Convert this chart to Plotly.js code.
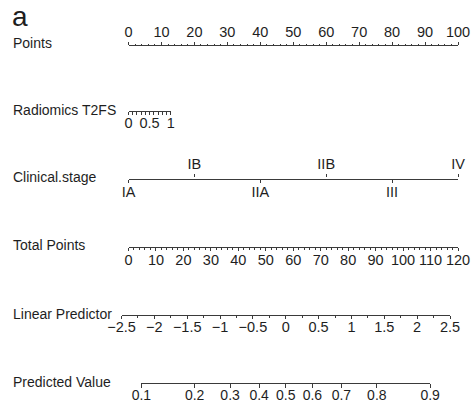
<!DOCTYPE html>
<html>
<head>
<meta charset="utf-8">
<script src="https://cdn.plot.ly/plotly-3.0.1.min.js"></script>
<style>html,body{margin:0;padding:0;background:#fff;}#chart{width:472px;height:402px;}</style>
</head>
<body>
<div id="chart"></div>
<script>
// ---- data ----
const pointsTicks = [0, 10, 20, 30, 40, 50, 60, 70, 80, 90, 100];
const radiomicsValues = [0, 0.5, 1];
const radiomicsMaxPoints = 12.8;
const stageLabels = ['IA', 'IB', 'IIA', 'IIB', 'III', 'IV'];
const stagePoints = [0, 20, 40, 60, 80, 100];
const totalPointsTicks = [0, 10, 20, 30, 40, 50, 60, 70, 80, 90, 100, 110, 120];
const linearPredictorTicks = [-2.5, -2, -1.5, -1, -0.5, 0, 0.5, 1, 1.5, 2, 2.5];
const predictedValues = [0.1, 0.2, 0.3, 0.4, 0.5, 0.6, 0.7, 0.8, 0.9];
const rowLabels = ['Points', 'Radiomics T2FS', 'Clinical.stage', 'Total Points', 'Linear Predictor', 'Predicted Value'];

// ---- layout geometry (pixels) ----
const W = 472, H = 402;
const ptsPx = [128.5, 458];          // pixel extent of the 0..100 points scale
const lpPx = [121.5, 450];           // pixel extent of the linear predictor axis
const rowY = [47, 110, 178, 246, 314, 382];
const labelY = [43, 110, 177, 245, 314, 382];
const labelX = 11;

const fx = p => p / W;
const fy = p => 1 - p / H;
const ptsToPx = v => ptsPx[0] + v / 100 * (ptsPx[1] - ptsPx[0]);
const lpMin = linearPredictorTicks[0], lpMax = linearPredictorTicks[linearPredictorTicks.length - 1];
const lpToPx = v => lpPx[0] + (v - lpMin) / (lpMax - lpMin) * (lpPx[1] - lpPx[0]);
const logit = p => Math.log(p / (1 - p));

const lineCol = '#3a3a3a';
const txtCol = '#1e1e1e';
const fam = '"Liberation Sans", Arial, Helvetica, sans-serif';
const tickFont = {family: fam, size: 14.5, color: txtCol};

function yDom(y, side) {
  const p = fy(y), e = 0.002;
  return side === 'top' ? [p - e, p] : [p, p + e];
}
function baseX(extra) {
  return Object.assign({
    showline: true, linecolor: lineCol, linewidth: 1,
    ticks: 'outside', ticklen: 3.5, tickwidth: 1, tickcolor: lineCol,
    tickfont: tickFont, showgrid: false, zeroline: false, fixedrange: true,
    tickangle: 0, ticklabeloverflow: 'allow', ticklabelstandoff: -4
  }, extra);
}
function hiddenY(y, side) {
  return {domain: yDom(y, side), visible: false, fixedrange: true, range: [-1, 1]};
}
function ghost(xa, ya, xs) {
  return {type: 'scatter', x: xs, y: xs.map(() => 0), xaxis: xa, yaxis: ya,
    mode: 'markers', marker: {opacity: 0}, hoverinfo: 'skip', showlegend: false};
}

const pvMin = logit(predictedValues[0]), pvMax = logit(predictedValues[predictedValues.length - 1]);
const lower = (_, i) => i % 2 === 0, upper = (_, i) => i % 2 === 1;

const layout = {
  width: W, height: H,
  margin: {l: 0, r: 0, t: 0, b: 0},
  paper_bgcolor: '#fff', plot_bgcolor: 'rgba(0,0,0,0)',
  showlegend: false,
  // Points
  xaxis: baseX({domain: [fx(ptsPx[0]), fx(ptsPx[1])], range: [0, 100], anchor: 'y', side: 'top',
    tickmode: 'array', tickvals: pointsTicks, ticktext: pointsTicks.map(String), ticklabelstandoff: -1,
    minor: {dtick: 2, tick0: 0, ticks: 'outside', ticklen: 1.5, tickcolor: lineCol, showgrid: false}}),
  yaxis: hiddenY(rowY[0], 'bottom'),
  // Radiomics T2FS
  xaxis2: baseX({domain: [fx(ptsToPx(0)), fx(ptsToPx(radiomicsMaxPoints))], range: [0, 1], anchor: 'y2', side: 'bottom',
    tickmode: 'array', tickvals: radiomicsValues, ticktext: ['0', '0.5', '1'], ticklen: 3,
    minor: {dtick: 0.1, tick0: 0, ticks: 'outside', ticklen: 3, tickcolor: lineCol, showgrid: false}}),
  yaxis2: hiddenY(rowY[1], 'top'),
  // Clinical.stage (lower labels)
  xaxis3: baseX({domain: [fx(ptsPx[0]), fx(ptsPx[1])], range: [0, 100], anchor: 'y3', side: 'bottom',
    tickmode: 'array', tickvals: stagePoints.filter(lower), ticktext: stageLabels.filter(lower), ticklen: 3.5}),
  yaxis3: hiddenY(rowY[2], 'top'),
  // Clinical.stage (upper labels; shares the line drawn by the lower axis)
  xaxis4: baseX({domain: [fx(ptsPx[0]), fx(ptsPx[1])], range: [0, 100], anchor: 'y4', side: 'top',
    showline: false, tickmode: 'array', tickvals: stagePoints.filter(upper), ticktext: stageLabels.filter(upper),
    ticklen: 3.5, ticklabelstandoff: -1}),
  yaxis4: hiddenY(rowY[2] + 1, 'bottom'),
  // Total Points
  xaxis5: baseX({domain: [fx(ptsPx[0]), fx(ptsPx[1])], range: [0, 120], anchor: 'y5', side: 'bottom',
    tickmode: 'array', tickvals: totalPointsTicks, ticktext: totalPointsTicks.map(String),
    minor: {dtick: 2, tick0: 0, ticks: 'outside', ticklen: 2, tickcolor: lineCol, showgrid: false}}),
  yaxis5: hiddenY(rowY[3], 'top'),
  // Linear Predictor
  xaxis6: baseX({domain: [fx(lpPx[0]), fx(lpPx[1])], range: [lpMin, lpMax], anchor: 'y6', side: 'bottom',
    tickmode: 'array', tickvals: linearPredictorTicks,
    ticktext: linearPredictorTicks.map(v => String(v).replace('-', '\u2212')), ticklen: 3,
    minor: {dtick: 0.25, tick0: 0, ticks: 'outside', ticklen: 2.5, tickcolor: lineCol, showgrid: false}}),
  yaxis6: hiddenY(rowY[4], 'top'),
  // Predicted Value
  xaxis7: baseX({domain: [fx(lpToPx(pvMin)), fx(lpToPx(pvMax))], range: [pvMin, pvMax], anchor: 'y7', side: 'bottom',
    tickmode: 'array', tickvals: predictedValues.map(logit), ticktext: predictedValues.map(String), ticklen: 4,
    ticklabelstandoff: -5, tickfont: {family: fam, size: 14, color: txtCol}}),
  yaxis7: hiddenY(rowY[5], 'top'),
  annotations: [
    {text: 'a', x: fx(10), y: fy(17), xref: 'paper', yref: 'paper', xanchor: 'left', yanchor: 'middle',
      showarrow: false, font: {family: fam, size: 28, color: txtCol}}
  ].concat(rowLabels.map((t, i) => ({
    text: t, x: fx(labelX), y: fy(labelY[i]), xref: 'paper', yref: 'paper', xanchor: 'left', yanchor: 'middle',
    showarrow: false, font: {family: fam, size: 14, color: txtCol}
  })))
};

const data = [
  ghost('x', 'y', pointsTicks),
  ghost('x2', 'y2', radiomicsValues),
  ghost('x3', 'y3', stagePoints),
  ghost('x4', 'y4', stagePoints),
  ghost('x5', 'y5', totalPointsTicks),
  ghost('x6', 'y6', linearPredictorTicks),
  ghost('x7', 'y7', predictedValues.map(logit))
];

Plotly.newPlot('chart', data, layout, {staticPlot: true, displayModeBar: false});
</script>
</body>
</html>
